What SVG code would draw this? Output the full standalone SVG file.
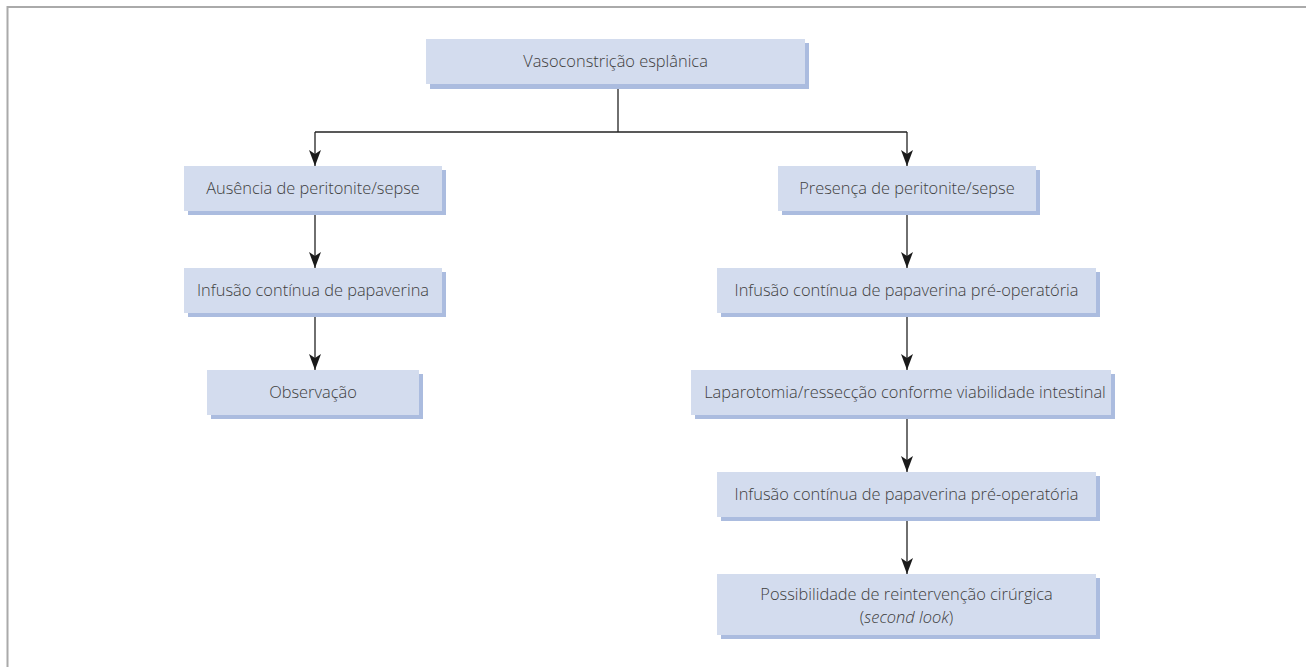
<svg xmlns="http://www.w3.org/2000/svg" width="1306" height="667" viewBox="0 0 1306 667">
<style>
.box{fill:#d3dcee}
.sh{fill:#abbcdf}
.t{font-family:"Open Sans","Noto Sans","Liberation Sans",sans-serif;font-size:16.4px;font-weight:300;fill:#404040;text-anchor:middle}
.c{fill:none;stroke:#222;stroke-width:1.3}
.frame{fill:none;stroke:#aaaaaa;stroke-width:2}
</style>
<defs>
<marker id="ah" viewBox="0 0 16 12" markerWidth="16" markerHeight="13" refX="16" refY="6" orient="auto" markerUnits="userSpaceOnUse">
<path d="M0,0 L16,6 L0,12 L4,6 z" fill="#1a1a1a"/>
</marker>
</defs>
<rect width="1306" height="667" fill="#ffffff"/>
<path class="frame" d="M7.5,667 V7 H1306"/>
<g id="connectors">
<path class="c" d="M618,88 V132"/>
<path class="c" d="M315,132 H907"/>
<path class="c" d="M315,132 V166" marker-end="url(#ah)"/>
<path class="c" d="M907,132 V166" marker-end="url(#ah)"/>
<path class="c" d="M315,215 V268" marker-end="url(#ah)"/>
<path class="c" d="M315,317 V370" marker-end="url(#ah)"/>
<path class="c" d="M907,215 V268" marker-end="url(#ah)"/>
<path class="c" d="M907,317 V370" marker-end="url(#ah)"/>
<path class="c" d="M907,419 V472" marker-end="url(#ah)"/>
<path class="c" d="M907,521 V574" marker-end="url(#ah)"/>
</g>
<g id="n-vaso">
<rect class="sh" x="430" y="43" width="379" height="46"/>
<rect class="box" x="426" y="39" width="379" height="45"/>
<text class="t" x="615.5" y="67">Vasoconstrição esplânica</text>
</g>
<g id="n-ausencia">
<rect class="sh" x="188" y="170" width="258" height="45"/>
<rect class="box" x="184" y="166" width="258" height="45"/>
<text class="t" x="313" y="194">Ausência de peritonite/sepse</text>
</g>
<g id="n-infusao-l">
<rect class="sh" x="188" y="272" width="258" height="45"/>
<rect class="box" x="184" y="268" width="258" height="45"/>
<text class="t" x="313" y="296">Infusão contínua de papaverina</text>
</g>
<g id="n-observacao">
<rect class="sh" x="211" y="374" width="212" height="45"/>
<rect class="box" x="207" y="370" width="212" height="45"/>
<text class="t" x="313" y="398">Observação</text>
</g>
<g id="n-presenca">
<rect class="sh" x="782" y="170" width="258" height="45"/>
<rect class="box" x="778" y="166" width="258" height="45"/>
<text class="t" x="907" y="194">Presença de peritonite/sepse</text>
</g>
<g id="n-infusao-r1">
<rect class="sh" x="721" y="272" width="379" height="45"/>
<rect class="box" x="717" y="268" width="379" height="45"/>
<text class="t" x="906.5" y="296">Infusão contínua de papaverina pré-operatória</text>
</g>
<g id="n-laparotomia">
<rect class="sh" x="695" y="374" width="420" height="45"/>
<rect class="box" x="691" y="370" width="420" height="45"/>
<text class="t" x="905" y="398">Laparotomia/ressecção conforme viabilidade intestinal</text>
</g>
<g id="n-infusao-r2">
<rect class="sh" x="721" y="476" width="379" height="45"/>
<rect class="box" x="717" y="472" width="379" height="45"/>
<text class="t" x="906.5" y="500">Infusão contínua de papaverina pré-operatória</text>
</g>
<g id="n-possibilidade">
<rect class="sh" x="721" y="578" width="379" height="61"/>
<rect class="box" x="717" y="574" width="379" height="61"/>
<text class="t" x="906.5" y="599.5">Possibilidade de reintervenção cirúrgica</text>
<text class="t" x="906.5" y="622.5">(<tspan font-style="italic">second look</tspan>)</text>
</g>
</svg>
